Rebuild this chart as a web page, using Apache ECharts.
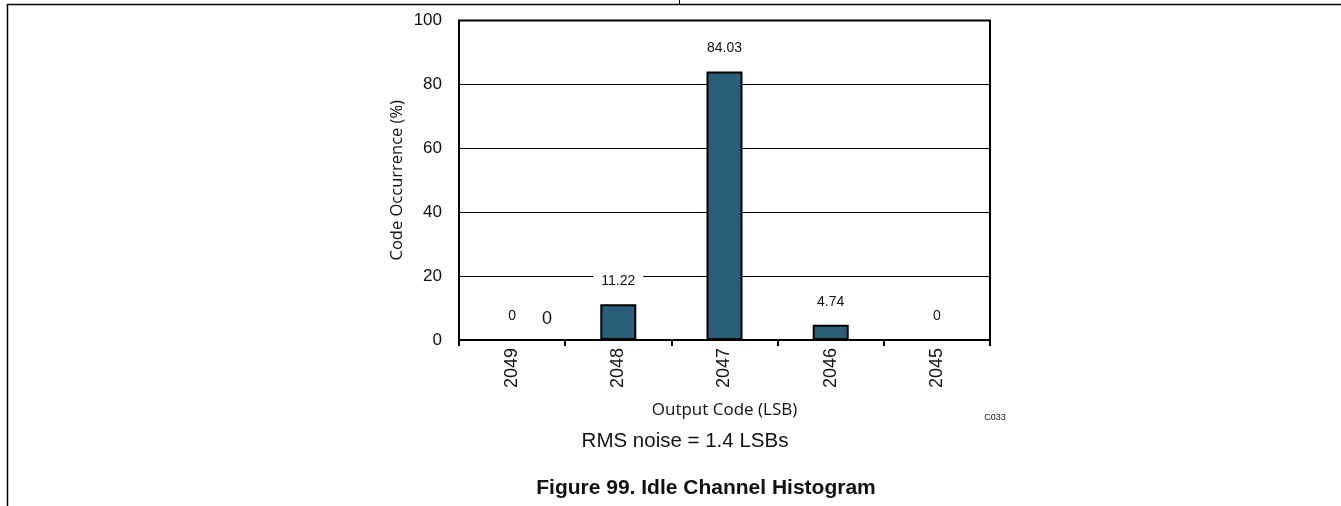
<!DOCTYPE html>
<html>
<head>
<meta charset="utf-8">
<script src="https://cdn.jsdelivr.net/npm/echarts@6/dist/echarts.min.js"></script>
<style>
html,body{margin:0;padding:0;background:#fff;}
#chart{width:1341px;height:506px;}
</style>
</head>
<body>
<div id="chart"></div>
<script>
var categories = ['2049', '2048', '2047', '2046', '2045'];
var occurrence = [0, 11.22, 84.03, 4.74, 0];
var yTicks = [0, 20, 40, 60, 80, 100];
var yAxisName = 'Code Occurrence (%)';
var xAxisName = 'Output Code (LSB)';
var noteText = 'RMS noise = 1.4 LSBs';
var captionText = 'Figure 99. Idle Channel Histogram';
var codeText = 'C033';
var strayLabel = '0';

var chart = echarts.init(document.getElementById('chart'), null, {renderer: 'canvas'});
var option = {
  animation: false,
  backgroundColor: '#fff',
  grid: {left: 459, top: 20.5, right: 351, bottom: 166, show: true, borderColor: '#000', borderWidth: 2, backgroundColor: 'transparent'},
  xAxis: {
    type: 'category',
    data: categories,
    name: xAxisName,
    nameLocation: 'middle',
    nameGap: 62,
    nameTextStyle: {fontFamily: 'Open Sans', fontSize: 17, color: '#111'},
    axisLine: {lineStyle: {color: '#000', width: 2}},
    axisTick: {show: true, length: 6, lineStyle: {color: '#000', width: 2}},
    axisLabel: {rotate: 90, margin: 8, fontFamily: 'Arial, Liberation Sans', fontSize: 18, color: '#111'}
  },
  yAxis: {
    type: 'value',
    min: yTicks[0],
    max: yTicks[yTicks.length - 1],
    interval: 20,
    name: yAxisName,
    nameLocation: 'middle',
    nameGap: 53,
    nameRotate: 90,
    nameTextStyle: {fontFamily: 'Open Sans', fontSize: 16.5, color: '#111'},
    axisLine: {show: true, lineStyle: {color: '#000', width: 2}},
    axisTick: {show: false},
    axisLabel: {margin: 17, fontFamily: 'Arial, Liberation Sans', fontSize: 17, color: '#111'},
    splitLine: {show: true, lineStyle: {color: '#000', width: 1}}
  },
  series: [{
    type: 'bar',
    data: occurrence,
    barWidth: 36,
    itemStyle: {color: '#2B5E79', borderColor: '#000', borderWidth: 2},
    label: {
      show: true,
      position: 'top',
      distance: 12,
      fontFamily: 'Arial, Liberation Sans',
      fontSize: 14,
      color: '#111',
      backgroundColor: '#fff',
      padding: [4, 8]
    }
  }],
  graphic: [
    {type: 'line', shape: {x1: 7, y1: 4.5, x2: 1341, y2: 4.5}, style: {stroke: '#000', lineWidth: 1.5}},
    {type: 'line', shape: {x1: 7.5, y1: 4, x2: 7.5, y2: 506}, style: {stroke: '#000', lineWidth: 1.5}},
    {type: 'line', shape: {x1: 679.5, y1: 0, x2: 679.5, y2: 4}, style: {stroke: '#000', lineWidth: 1}},
    {type: 'text', x: 547, y: 319, style: {text: strayLabel, fontFamily: 'Arial, Liberation Sans', fontSize: 18, fill: '#111', textAlign: 'center', textVerticalAlign: 'middle'}},
    {type: 'text', x: 995, y: 418, style: {text: codeText, fontFamily: 'Arial, Liberation Sans', fontSize: 9, fill: '#111', textAlign: 'center', textVerticalAlign: 'middle'}},
    {type: 'text', x: 685, y: 441, style: {text: noteText, fontFamily: 'Arial, Liberation Sans', fontSize: 20.5, fill: '#111', textAlign: 'center', textVerticalAlign: 'middle'}},
    {type: 'text', x: 706, y: 488, style: {text: captionText, fontFamily: 'Arial, Liberation Sans', fontSize: 21, fontWeight: 'bold', fill: '#111', textAlign: 'center', textVerticalAlign: 'middle'}}
  ]
};
chart.setOption(option);
</script>
</body>
</html>
